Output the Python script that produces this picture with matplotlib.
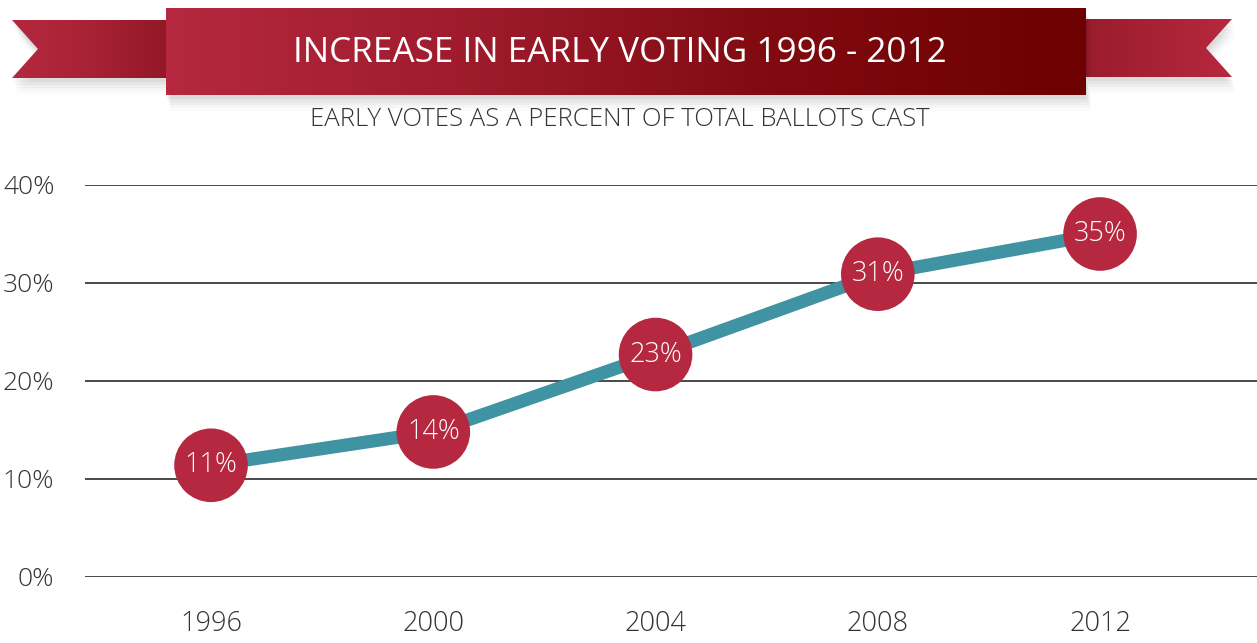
import numpy as np
import matplotlib
matplotlib.use("Agg")
import matplotlib.pyplot as plt
from matplotlib.patches import Polygon
from matplotlib.colors import LinearSegmentedColormap

# Dados do gráfico
anos = ["1996", "2000", "2004", "2008", "2012"]
percentuais = [11.4, 14.8, 22.7, 30.9, 35.0]
rotulos = ["11%", "14%", "23%", "31%", "35%"]
ticks_y = [0, 10, 20, 30, 40]
rotulos_y = ["0%", "10%", "20%", "30%", "40%"]

titulo = "INCREASE IN EARLY VOTING 1996 - 2012"
subtitulo = "EARLY VOTES AS A PERCENT OF TOTAL BALLOTS CAST"

plt.rcParams["font.family"] = ["Open Sans", "DejaVu Sans"]

W, H = 1257, 643
fig = plt.figure(figsize=(W / 100, H / 100), dpi=100)

# Eixo principal (posição em pixels convertida para fração)
esq, dir_, base, topo = 85, 1257, 577, 185
ax = fig.add_axes([esq / W, (H - base) / H, (dir_ - esq) / W, (base - topo) / H])
x = np.arange(len(anos))
ax.set_xlim(-0.567, 4.706)
ax.set_ylim(0, 40)

for t in ticks_y:
    ax.axhline(t, color="#3a3a3a", lw=1.3, zorder=1)

ax.plot(x, percentuais, color="#3f93a2", lw=9.5, solid_capstyle="butt", zorder=2)
ax.scatter(x, percentuais, s=53 ** 2, color="#b5283f", zorder=3, clip_on=False,
           edgecolors="none")
for xi, yi, r in zip(x, percentuais, rotulos):
    ax.text(xi, yi, r, color="white", fontsize=19.5, ha="center", va="center",
            fontweight="light", zorder=4)

ax.set_yticks(ticks_y)
ax.set_yticklabels(rotulos_y, fontsize=19, color="#333333", fontweight="light")
ax.set_xticks(x)
ax.set_xticklabels(anos, fontsize=19.5, color="#333333", fontweight="light")
ax.tick_params(axis="y", length=0, pad=22)
ax.tick_params(axis="x", length=0, pad=24)
for s in ax.spines.values():
    s.set_visible(False)

# Faixa do título (coordenadas em pixels)
bx = fig.add_axes([0, 0, 1, 1], zorder=-1)
bx.set_xlim(0, W)
bx.set_ylim(H, 0)
bx.axis("off")
bx.patch.set_alpha(0)


def gradiente(pts, cores, x0, x1, y0, y1, z):
    poly = Polygon(pts, closed=True, facecolor="none", edgecolor="none")
    bx.add_patch(poly)
    cmap = LinearSegmentedColormap.from_list("g", cores)
    img = bx.imshow(np.linspace(0, 1, 256).reshape(1, -1), cmap=cmap, aspect="auto",
                    extent=(x0, x1, y1, y0), zorder=z, interpolation="bilinear")
    img.set_clip_path(poly)


def sombra(pts, z):
    for i, a in enumerate([0.04, 0.035, 0.03, 0.02, 0.015]):
        off = 4 + i * 3
        p = [(px + off * 0.3, py + off) for px, py in pts]
        bx.add_patch(Polygon(p, closed=True, facecolor="black", alpha=a,
                             edgecolor="none", zorder=z))


fita_esq = [(12, 20), (166, 20), (166, 78), (12, 78), (38, 49)]
fita_dir = [(1086, 19), (1232, 19), (1206, 48), (1232, 77), (1086, 77)]
caixa = [(166, 8), (1086, 8), (1086, 95), (166, 95)]

sombra(fita_esq, 1)
sombra(fita_dir, 1)
gradiente(fita_esq, ["#b5283f", "#a82235", "#931826"], 12, 166, 20, 78, 2)
gradiente(fita_dir, ["#9a1c2c", "#a82235", "#b7283f"], 1086, 1232, 19, 77, 2)
sombra(caixa, 3)
gradiente(caixa, ["#b5283f", "#9e1b2c", "#800a10", "#6d0000"], 166, 1086, 8, 95, 4)

bx.text(620, 53, titulo, color="white", fontsize=25.3, ha="center", va="center", zorder=5)
bx.text(620, 120, subtitulo, color="#333333", fontsize=18.5, ha="center", va="center",
        fontweight="light", zorder=5)

fig.savefig("out.png", dpi=100, facecolor="white")
